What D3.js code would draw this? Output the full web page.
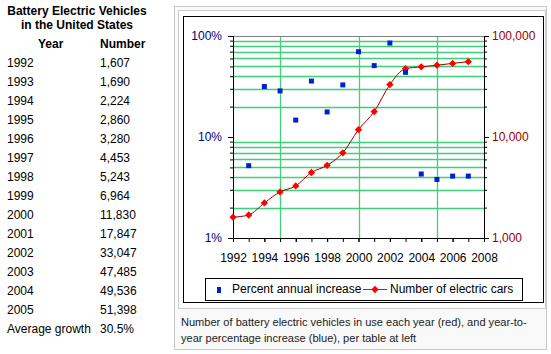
<!DOCTYPE html>
<html>
<head>
<meta charset="utf-8">
<script src="https://cdn.jsdelivr.net/npm/d3@7/dist/d3.min.js"></script>
<style>
  body { margin: 0; background: #fff; }
  svg { display: block; font-family: 'Liberation Sans', Arial, sans-serif; }
</style>
</head>
<body>
<svg id="chart"></svg>
<script>
// data
const years = [1992, 1993, 1994, 1995, 1996, 1997, 1998, 1999, 2000, 2001, 2002, 2003, 2004, 2005, 2006, 2007];
const cars = [1607, 1690, 2224, 2860, 3280, 4453, 5243, 6964, 11830, 17847, 33047, 47485, 49536, 51398, 53526, 55730];
const pctYears = [1993, 1994, 1995, 1996, 1997, 1998, 1999, 2000, 2001, 2002, 2003, 2004, 2005, 2006, 2007];
const pctIncrease = [5.2, 31.6, 28.6, 14.7, 35.8, 17.7, 32.8, 69.9, 50.9, 85.2, 43.7, 4.3, 3.8, 4.1, 4.1];
const tableYears = [1992, 1993, 1994, 1995, 1996, 1997, 1998, 1999, 2000, 2001, 2002, 2003, 2004, 2005];
const averageGrowth = '30.5%';
const xTicks = [1992, 1994, 1996, 1998, 2000, 2002, 2004, 2006, 2008];
const xMinorTicks = [1992, 1993, 1994, 1995, 1996, 1997, 1998, 1999, 2000, 2001, 2002, 2003, 2004, 2005, 2006, 2007, 2008];
const xGrid = [1995, 2000, 2005];
const leftTicks = [1, 10, 100];
const rightTicks = [1000, 10000, 100000];
const caption = ['Number of battery electric vehicles in use each year (red), and year-to-',
  'year percentage increase (blue), per table at left'];

const width = 551;
const height = 354;
const plot = { left: 233, right: 484, top: 36, bottom: 238 };

const svg = d3.select('#chart')
  .attr('width', width)
  .attr('height', height);

// ---- table on the left ----
const table = svg.append('g').attr('font-size', 12).attr('fill', '#000');

table.append('text')
  .attr('x', 77).attr('y', 15)
  .attr('text-anchor', 'middle')
  .attr('font-weight', 'bold')
  .text('Battery Electric Vehicles');
table.append('text')
  .attr('x', 77).attr('y', 29)
  .attr('text-anchor', 'middle')
  .attr('font-weight', 'bold')
  .text('in the United States');
table.append('text')
  .attr('x', 38).attr('y', 48)
  .attr('font-weight', 'bold')
  .text('Year');
table.append('text')
  .attr('x', 100).attr('y', 48)
  .attr('font-weight', 'bold')
  .text('Number');

const rows = table.selectAll('.row')
  .data(tableYears)
  .join('g')
  .attr('class', 'row')
  .attr('transform', (d, i) => `translate(0, ${67 + i * 19})`);
rows.append('text').attr('x', 7).text(d => d);
rows.append('text').attr('x', 100).text((d, i) => d3.format(',')(cars[i]));

table.append('text')
  .attr('x', 7).attr('y', 67 + tableYears.length * 19)
  .text('Average growth');
table.append('text')
  .attr('x', 100).attr('y', 67 + tableYears.length * 19)
  .text(averageGrowth);

// ---- thumbnail frame ----
svg.append('rect')
  .attr('x', 174.5).attr('y', 6.5)
  .attr('width', 372).attr('height', 343)
  .attr('fill', '#f9f9f9')
  .attr('stroke', '#c8c8c8');
svg.append('rect')
  .attr('x', 178.5).attr('y', 10.5)
  .attr('width', 367).attr('height', 298)
  .attr('fill', '#fff')
  .attr('stroke', '#cccccc');
svg.append('rect')
  .attr('x', 183.5).attr('y', 16.5)
  .attr('width', 360).attr('height', 286)
  .attr('fill', '#fff')
  .attr('stroke', '#000');

const captionText = svg.selectAll('.caption')
  .data(caption)
  .join('text')
  .attr('class', 'caption')
  .attr('x', 181)
  .attr('y', (d, i) => 326 + i * 16)
  .attr('font-size', 12)
  .attr('fill', '#202122')
  .text(d => d);

// shrink the caption so the first line ends where the reference's does
const firstLen = captionText.node().getComputedTextLength();
captionText.attr('font-size', Math.min(12, 12 * 346 / firstLen));

// ---- scales ----
const xScale = d3.scaleLinear()
  .domain([1992, 2008])
  .range([plot.left, plot.right]);

const yLeft = d3.scaleLog()
  .domain([1, 100])
  .range([plot.bottom, plot.top]);

const yRight = d3.scaleLog()
  .domain([1000, 100000])
  .range([plot.bottom, plot.top]);

const minorLeft = [2, 3, 4, 5, 6, 7, 8, 9, 20, 30, 40, 50, 60, 70, 80, 90];
const minorRight = minorLeft.map(v => v * 1000);

// gridlines
const grid = svg.append('g')
  .attr('stroke', '#3fd07a')
  .attr('stroke-width', 1.3);
grid.selectAll('.hgrid')
  .data(minorLeft)
  .join('line')
  .attr('class', 'hgrid')
  .attr('x1', plot.left).attr('x2', plot.right)
  .attr('y1', d => Math.round(yLeft(d)) + 0.5)
  .attr('y2', d => Math.round(yLeft(d)) + 0.5);
grid.selectAll('.vgrid')
  .data(xGrid)
  .join('line')
  .attr('class', 'vgrid')
  .attr('x1', d => Math.round(xScale(d)) + 0.5)
  .attr('x2', d => Math.round(xScale(d)) + 0.5)
  .attr('y1', plot.top).attr('y2', plot.bottom);

svg.append('line')
  .attr('x1', plot.left).attr('x2', plot.right)
  .attr('y1', plot.top + 0.5).attr('y2', plot.top + 0.5)
  .attr('stroke', '#808080');

// ---- axes ----
function styleAxis(g, color) {
  g.attr('font-size', 12)
    .attr('font-family', "'Liberation Sans', Arial, sans-serif");
  g.select('.domain').attr('stroke', '#000');
  g.selectAll('.tick line').attr('stroke', '#000');
  g.selectAll('.tick text').attr('fill', color);
}

svg.append('g')
  .attr('transform', `translate(${plot.left}, 0)`)
  .call(d3.axisLeft(yLeft).tickValues(minorLeft).tickSize(3).tickFormat('').tickSizeOuter(0))
  .call(g => styleAxis(g, '#000080'));
svg.append('g')
  .attr('transform', `translate(${plot.left}, 0)`)
  .call(d3.axisLeft(yLeft).tickValues(leftTicks).tickSize(5).tickPadding(6).tickFormat(d => d + '%').tickSizeOuter(0))
  .call(g => styleAxis(g, '#000080'));

svg.append('g')
  .attr('transform', `translate(${plot.right}, 0)`)
  .call(d3.axisRight(yRight).tickValues(minorRight).tickSize(3).tickFormat('').tickSizeOuter(0))
  .call(g => styleAxis(g, '#990000'));
svg.append('g')
  .attr('transform', `translate(${plot.right}, 0)`)
  .call(d3.axisRight(yRight).tickValues(rightTicks).tickSize(5).tickPadding(3).tickFormat(d3.format(',')).tickSizeOuter(0))
  .call(g => styleAxis(g, '#990000'));

svg.append('g')
  .attr('transform', `translate(0, ${plot.bottom})`)
  .call(d3.axisBottom(xScale).tickValues(xMinorTicks).tickSize(4).tickFormat('').tickSizeOuter(0))
  .call(g => styleAxis(g, '#000'));
svg.append('g')
  .attr('transform', `translate(0, ${plot.bottom})`)
  .call(d3.axisBottom(xScale).tickValues(xTicks).tickSize(4).tickPadding(11).tickFormat(d3.format('d')).tickSizeOuter(0))
  .call(g => styleAxis(g, '#000'));

// ---- series ----
const carPoints = years.map((y, i) => ({ year: y, value: cars[i] }));
const pctPoints = pctYears.map((y, i) => ({ year: y, value: pctIncrease[i] }));

const lineGen = d3.line()
  .x(d => xScale(d.year))
  .y(d => yRight(d.value))
  .curve(d3.curveMonotoneX);

svg.append('path')
  .datum(carPoints)
  .attr('d', lineGen)
  .attr('fill', 'none')
  .attr('stroke', '#a00000')
  .attr('stroke-width', 1);

const diamond = d3.symbol(d3.symbolDiamond2, 34);

svg.selectAll('.car-point')
  .data(carPoints)
  .join('path')
  .attr('class', 'car-point')
  .attr('transform', d => `translate(${xScale(d.year)}, ${yRight(d.value)})`)
  .attr('d', diamond)
  .attr('fill', '#ff0000');

svg.selectAll('.pct-point')
  .data(pctPoints)
  .join('rect')
  .attr('class', 'pct-point')
  .attr('x', d => xScale(d.year) - 2.5)
  .attr('y', d => yLeft(d.value) - 2.5)
  .attr('width', 5)
  .attr('height', 5)
  .attr('fill', '#0022cc');

// ---- legend ----
const legend = svg.append('g');
legend.append('rect')
  .attr('x', 205.5).attr('y', 278.5)
  .attr('width', 317).attr('height', 22)
  .attr('fill', '#fff')
  .attr('stroke', '#000');
legend.append('rect')
  .attr('x', 217).attr('y', 287)
  .attr('width', 4).attr('height', 6)
  .attr('fill', '#0022cc');
legend.append('text')
  .attr('x', 232).attr('y', 293)
  .attr('font-size', 12)
  .text('Percent annual increase');
legend.append('line')
  .attr('x1', 363).attr('x2', 387)
  .attr('y1', 289.5).attr('y2', 289.5)
  .attr('stroke', '#ff0000');
legend.append('path')
  .attr('transform', 'translate(375, 289.5)')
  .attr('d', diamond)
  .attr('fill', '#ff0000');
legend.append('text')
  .attr('x', 390).attr('y', 293)
  .attr('font-size', 12)
  .text('Number of electric cars');
</script>
</body>
</html>
